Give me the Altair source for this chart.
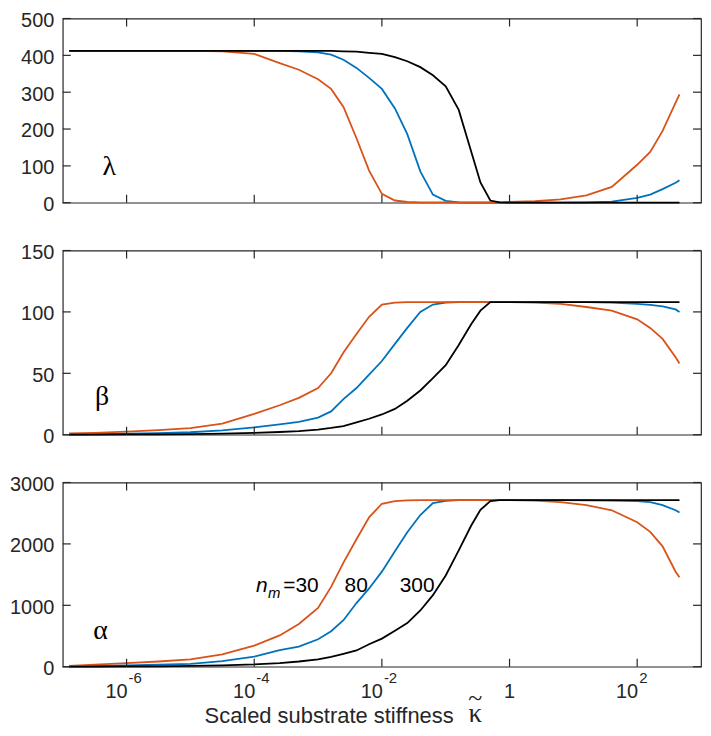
import altair as alt
import pandas as pd

# ---------------- data ----------------
kappa = [1.26e-7, 3.16e-7, 1e-6, 3.16e-6, 1e-5, 3.16e-5, 1e-4, 2.5e-4, 5e-4, 1e-3,
         1.6e-3, 2.5e-3, 4e-3, 6.3e-3, 1e-2, 1.6e-2, 2.5e-2, 4e-2, 6.3e-2, 0.1,
         0.16, 0.25, 0.35, 0.5, 0.7, 1, 2.5, 6.3, 16, 40, 100, 160, 250, 400, 460]

lam_30 = [412, 412, 412, 412, 412, 411, 404, 379, 361, 335, 309, 260, 175, 87, 24, 6, 2,
          1, 1, 1, 1, 1, 1, 1, 1, 2, 4, 9, 20, 43, 103, 138, 195, 272, 294]
lam_80 = [412, 412, 412, 412, 412, 412, 412, 412, 411, 408, 402, 388, 366, 339, 309, 256,
          186, 85, 22, 5, 1, 0, 0, 0, 0, 0, 0, 0.5, 1, 3, 13, 22, 37, 54, 61]
lam_300 = [412, 412, 412, 412, 412, 412, 412, 412, 412, 412, 412, 411, 410, 407, 404, 395,
           384, 368, 346, 316, 252, 140, 55, 6, 1, 0, 0, 0, 0, 0, 0, 0, 0, 0, 0]

beta_30 = [1, 1.5, 2.6, 3.8, 5.3, 9, 17, 24, 30, 38, 50, 67, 82, 96, 106, 107.5,
           108, 108, 108, 108, 108, 108, 108, 108, 108, 108,
           107.5, 106.5, 104, 101, 94, 87, 78, 63, 58]
beta_80 = [0.3, 0.5, 0.8, 1.3, 2, 3.5, 6, 8.5, 10.5, 14, 19, 29, 38, 49, 60, 74, 87, 100,
           106, 107.5, 108, 108, 108, 108, 108, 108, 108, 108, 108,
           107.6, 106.5, 105.7, 104.5, 102, 100]
beta_300 = [0.1, 0.15, 0.2, 0.3, 0.5, 0.9, 1.5, 2.2, 3, 4.2, 5.5, 7, 10, 13, 16.5, 21,
            27.6, 36, 46, 56.6, 73, 90, 101, 108,
            108, 108, 108, 108, 108, 108, 108, 108, 108, 108, 108]

alpha_30 = [15, 35, 60, 85, 120, 200, 345, 510, 695, 958, 1300, 1695, 2075, 2433, 2654,
            2697, 2710, 2712, 2712, 2712, 2712, 2712, 2712, 2712, 2712, 2712,
            2705, 2680, 2633, 2548, 2354, 2196, 1960, 1548, 1458]
alpha_80 = [5, 12, 20, 32, 45, 90, 165, 270, 327, 447, 579, 758, 1037, 1275, 1548, 1880,
            2191, 2470, 2665, 2700, 2712, 2712, 2712, 2712, 2712, 2712, 2712, 2712,
            2710, 2705, 2697, 2680, 2633, 2548, 2512]
alpha_300 = [1, 2, 4, 7, 12, 22, 37, 60, 85, 120, 160, 210, 265, 366, 458, 586, 711, 916,
             1166, 1485, 1896, 2296, 2554, 2697,
             2712, 2712, 2712, 2712, 2712, 2712, 2712, 2712, 2712, 2712, 2712]

series = ["80", "30", "300"]          # drawing order
colors = {"30": "#D95319", "80": "#0072BD", "300": "#000000"}

xticks = [1e-6, 1e-4, 1e-2, 1, 100]
xtick_base = ["10", "10", "10", "1", "10"]
xtick_exp = ["-6", "-4", "-2", "", "2"]

lam_ticks = [0, 100, 200, 300, 400, 500]
beta_ticks = [0, 50, 100, 150]
alpha_ticks = [0, 1000, 2000, 3000]

greek = ["λ", "β", "α"]
greek_x = [4.2e-7, 3.2e-7, 3.0e-7]
greek_y = [76, 24, 458]

ann_n_x = 1.07e-4
ann_y = 1216
ann_labels = ["=30", "80", "300"]
ann_x = [2.85e-4, 2.6e-3, 1.9e-2]

x_title = "Scaled substrate stiffness"
kappa_symbol = "κ"
kappa_symbol_x = 0.29

# ---------------- styling ----------------
W, H = 641, 185
AX = "#262626"
SANS = "Liberation Sans"
SERIF = "Liberation Serif"
TICK = 8
xscale = alt.Scale(type="log", domain=[1e-7, 1e3], nice=False)


def panel(vals, ydomain, yticks, gi, bottom=False):
    ys = alt.Scale(domain=ydomain, nice=False, zero=False)
    yaxis = alt.Axis(values=yticks, format="d", ticks=False, domain=False, grid=False,
                     labelFontSize=20, labelFont=SANS, labelColor=AX, labelPadding=9,
                     labelOffset=2, title=None)
    if bottom:
        xaxis = alt.Axis(labels=False, ticks=False, domain=False, grid=False,
                         title=x_title, titleFont=SANS,
                         titleFontSize=22, titleFontWeight="normal", titleColor=AX,
                         titlePadding=56, titleBaseline="alphabetic",
                         titleX=267, titleAlign="center")
    else:
        xaxis = None

    def X(f):
        return alt.X(f, scale=xscale, axis=xaxis)

    def Y(f):
        return alt.Y(f, scale=ys, axis=yaxis)

    layers = []
    for s in series:
        df = pd.DataFrame({"kappa": kappa, "v": vals[s]})
        layers.append(
            alt.Chart(df).mark_line(color=colors[s], strokeWidth=1.8).encode(
                x=X("kappa:Q"), y=Y("v:Q"))
        )
    xt = pd.DataFrame({"kappa": xticks, "base": xtick_base, "exp": xtick_exp})
    yt = pd.DataFrame({"v": yticks})
    rule = dict(color=AX, strokeWidth=1.2)
    layers.append(alt.Chart(xt).mark_rule(**rule).encode(
        x=X("kappa:Q"), y=alt.value(0), y2=alt.value(TICK)))
    layers.append(alt.Chart(xt).mark_rule(**rule).encode(
        x=X("kappa:Q"), y=alt.value(H), y2=alt.value(H - TICK)))
    layers.append(alt.Chart(yt).mark_rule(**rule).encode(
        y=Y("v:Q"), x=alt.value(0), x2=alt.value(TICK)))
    layers.append(alt.Chart(yt).mark_rule(**rule).encode(
        y=Y("v:Q"), x=alt.value(W), x2=alt.value(W - TICK)))
    gdf = pd.DataFrame({"kappa": [greek_x[gi]], "v": [greek_y[gi]], "t": [greek[gi]]})
    layers.append(alt.Chart(gdf).mark_text(font=SERIF, fontSize=28, align="left",
                                           baseline="alphabetic", color="#000000").encode(
        x=X("kappa:Q"), y=Y("v:Q"), text="t:N"))
    if bottom:
        tl = dict(font=SANS, fontSize=20, baseline="alphabetic", color=AX)
        layers.append(alt.Chart(xt).transform_filter("datum.exp != ''").mark_text(
            align="right", dx=1, **tl).encode(
            x=X("kappa:Q"), y=alt.value(H + 31), text="base:N"))
        layers.append(alt.Chart(xt).transform_filter("datum.exp == ''").mark_text(
            align="center", **tl).encode(
            x=X("kappa:Q"), y=alt.value(H + 31), text="base:N"))
        layers.append(alt.Chart(xt).transform_filter("datum.exp != ''").mark_text(
            align="left", dx=2, font=SANS, fontSize=15, baseline="alphabetic", color=AX).encode(
            x=X("kappa:Q"), y=alt.value(H + 16), text="exp:N"))
        adf = pd.DataFrame({"kappa": ann_x, "v": [ann_y] * len(ann_x), "t": ann_labels})
        layers.append(alt.Chart(adf).mark_text(font=SANS, fontSize=21, align="left",
                                               baseline="alphabetic", color="#000000").encode(
            x=X("kappa:Q"), y=Y("v:Q"), text="t:N"))
        ndf = pd.DataFrame({"kappa": [ann_n_x], "v": [ann_y], "n": ["n"], "m": ["m"]})
        layers.append(alt.Chart(ndf).mark_text(font=SANS, fontSize=21, fontStyle="italic",
                                               align="left", baseline="alphabetic",
                                               color="#000000").encode(
            x=X("kappa:Q"), y=Y("v:Q"), text="n:N"))
        layers.append(alt.Chart(ndf).mark_text(font=SANS, fontSize=15, fontStyle="italic",
                                               align="left", baseline="alphabetic",
                                               dx=12, dy=6, color="#000000").encode(
            x=X("kappa:Q"), y=Y("v:Q"), text="m:N"))
        kdf = pd.DataFrame({"kappa": [kappa_symbol_x], "k": [kappa_symbol], "tl": ["~"]})
        layers.append(alt.Chart(kdf).mark_text(font=SERIF, fontSize=27, align="center",
                                               baseline="alphabetic", color=AX).encode(
            x=X("kappa:Q"), y=alt.value(H + 56), text="k:N"))
        layers.append(alt.Chart(kdf).mark_text(font=SERIF, fontSize=26, align="center",
                                               baseline="alphabetic", color=AX).encode(
            x=X("kappa:Q"), y=alt.value(H + 39), text="tl:N"))
    return alt.layer(*layers).properties(width=W, height=H)


p1 = panel({"30": lam_30, "80": lam_80, "300": lam_300}, [0, 500], lam_ticks, 0)
p2 = panel({"30": beta_30, "80": beta_80, "300": beta_300}, [0, 150], beta_ticks, 1)
p3 = panel({"30": alpha_30, "80": alpha_80, "300": alpha_300}, [0, 3000], alpha_ticks, 2,
           bottom=True)

chart = alt.vconcat(p1, p2, p3, spacing=26).properties(
    padding={"left": 0, "right": 0, "top": 0, "bottom": 0}
).configure_view(stroke=AX, strokeWidth=1.2)

chart.save("out.html", embed_options={"renderer": "svg", "actions": False})
